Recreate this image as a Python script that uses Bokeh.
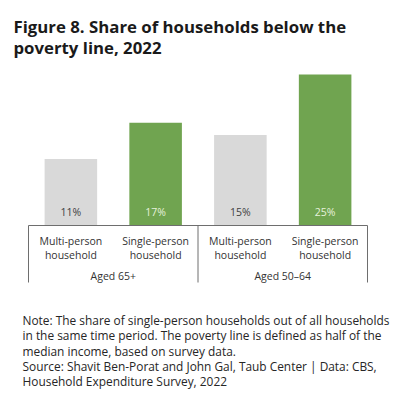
from bokeh.plotting import figure
from bokeh.models import Range1d
from bokeh.core.properties import value
from bokeh.embed import file_html
from bokeh.resources import INLINE

# ---- data ----
groups = ["Aged 65+", "Aged 50–64"]
household_types = ["Multi-person", "Single-person"]
type_line2 = ["household", "household"]
values = [11, 17, 15, 25]          # % of households below poverty line
bar_type = [0, 1, 0, 1]            # index into household_types
value_labels = ["11%", "17%", "15%", "25%"]

title_lines = ["Figure 8. Share of households below the", "poverty line, 2022"]
note_lines = [
    "Note: The share of single-person households out of all households",
    "in the same time period. The poverty line is defined as half of the",
    "median income, based on survey data.",
    "Source: Shavit Ben-Porat and John Gal, Taub Center | Data: CBS,",
    "Household Expenditure Survey, 2022",
]

# ---- layout constants (pixels, page coordinates) ----
W, H = 391, 390
PX_X, X0_PX = 84.75, 28.0
PX_Y, Y0_PX = 6.04, 225.0

def xd(px):
    return (px - X0_PX) / PX_X

def yd(py):
    return (Y0_PX - py) / PX_Y

FONT = value("Open Sans")
GRAY, GREEN = "#d9d9d9", "#70a450"
fill = [GRAY if t == 0 else GREEN for t in bar_type]
lab_col = ["#404040" if t == 0 else "#e6f2dc" for t in bar_type]

p = figure(width=W, height=H, output_backend="svg", toolbar_location=None,
           x_axis_type=None, y_axis_type=None, min_border=0,
           x_range=Range1d(xd(0), xd(W)), y_range=Range1d(yd(H), yd(0)))
p.grid.visible = False
p.outline_line_color = None
p.background_fill_color = "white"
p.border_fill_color = "white"

xs = [i + 0.5 for i in range(len(values))]
p.vbar(x=xs, top=values, bottom=0, width=0.62, fill_color=fill, line_color=None)

# value labels inside bars, near bottom
p.text(x=xs, y=[yd(211)] * len(values), text=value_labels, text_color=lab_col,
       text_font=FONT, text_font_size="10.5px", text_align="center", text_baseline="middle")

# axis frame lines
n = len(values)
p.line(x=[0, n], y=[0, 0], line_color="#6e6e6e", line_width=1)
for gx in range(0, n + 1, 2):
    p.line(x=[gx, gx], y=[0, yd(282)], line_color="#6e6e6e", line_width=1)

# category labels
cat1 = [household_types[t] for t in bar_type]
cat2 = [type_line2[t] for t in bar_type]
p.text(x=xs, y=[yd(240)] * n, text=cat1, text_color="#333333", text_font=FONT,
       text_font_size="10.5px", text_align="center", text_baseline="middle")
p.text(x=xs, y=[yd(254)] * n, text=cat2, text_color="#333333", text_font=FONT,
       text_font_size="10.5px", text_align="center", text_baseline="middle")
gxs = [2 * i + 1 for i in range(len(groups))]
p.text(x=gxs, y=[yd(275)] * len(groups), text=groups, text_color="#333333", text_font=FONT,
       text_font_size="10.5px", text_align="center", text_baseline="middle")

# title
p.text(x=[xd(13)] * 2, y=[yd(26), yd(47)], text=title_lines, text_color="#1a1a1a",
       text_font=FONT, text_font_size="16.8px", text_font_style="bold",
       text_align="left", text_baseline="alphabetic")

# note
p.text(x=[xd(22)] * len(note_lines), y=[yd(b) for b in [319, 334.5, 350, 365, 380]],
       text=note_lines, text_color="#262626", text_font=FONT, text_font_size="11.9px",
       text_align="left", text_baseline="alphabetic")

open("out.html", "w").write(file_html(p, INLINE))
